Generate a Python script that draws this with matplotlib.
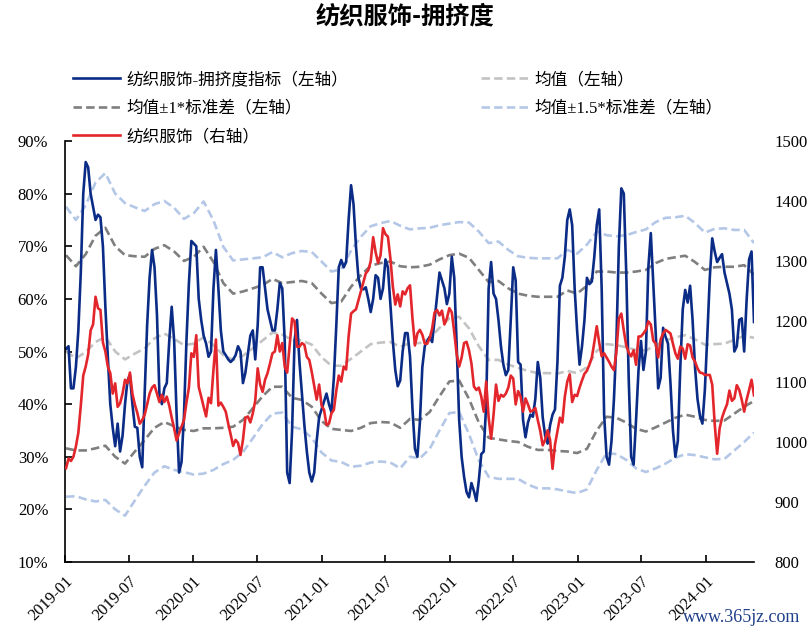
import numpy as np
import pandas as pd
import matplotlib
matplotlib.use('Agg')
import matplotlib.pyplot as plt
from matplotlib.ticker import FuncFormatter

plt.rcParams['font.family'] = ['Liberation Serif', 'Noto Sans CJK SC']
plt.rcParams['axes.unicode_minus'] = False

# ---- data (weekly) ----
weeks = pd.date_range('2019-01-04', periods=281, freq='7D')
band_dates = pd.date_range('2019-01-04', periods=71, freq='28D')

# 纺织服饰-拥挤度指标 (%)
crowd = [
    50.5, 51, 43, 43, 47, 54, 65, 80, 86, 85, 80, 77.5, 75, 76, 75.5, 70, 58.5, 49, 40, 35.5,
    32, 36.3, 31, 34, 40, 44.5, 45.5, 40, 35.7, 35.5, 30, 28, 42, 55, 64, 69.3, 66, 57, 42, 40,
    43, 44, 52, 58.5, 52, 38, 27, 29, 38, 52, 63, 71, 70.5, 70, 60,
    56, 53, 51.5, 49, 50, 62, 69.3, 62, 54, 50, 49.3, 48.5, 48, 48.5, 49.3, 51, 50, 44, 46, 49.5,
    53, 54, 48.5, 55, 66, 66, 62, 58, 56, 54, 54, 58, 63, 62, 52, 27, 25, 35, 52, 56,
    48, 42, 36, 31, 27, 25.3, 27, 33, 37.5, 39, 40.5, 42, 40, 38.5, 45,
    55, 66, 67.4, 66, 67, 75, 81.6, 78, 70, 64, 62, 61.8, 62.2, 60, 57.5, 60, 64.5, 64, 60, 62,
    67.5, 66, 59, 52, 46.5, 43.4, 44.5, 50, 53.5, 53.5, 49, 39, 31.5, 30, 36.5, 47, 51, 52, 52.8, 51.8,
    56, 60.4, 65, 63.5, 62, 59, 61, 68, 64, 51, 37, 30, 26.2, 23.3, 22.3,
    25, 23.5, 21.6, 25.5, 30.5, 31, 40, 62, 67, 61, 60, 56, 51, 47.5, 45.5, 46.5, 56, 66, 63.5, 48,
    47.5, 37, 33.7, 36.5, 38, 37.6, 41, 48, 45, 37.5, 34, 32.5, 36, 38, 39, 48, 62.5, 64, 68, 75,
    77, 74, 62, 54, 47.5, 51, 56, 64, 62.8, 63.3, 68, 74, 77, 62, 38,
    30, 28.5, 33, 41, 52, 70, 81, 80, 65, 45, 30, 28.5, 37, 46.5, 52, 46.5, 50, 66, 72.5, 63,
    53.5, 43, 45, 54.5, 52.8, 51.5, 44, 35, 30, 33, 47, 58, 61.7, 59.3, 62.5, 56, 47, 41, 37.8, 36.3,
    42.7, 53, 64, 71.5, 69, 67, 67.8, 68.5, 65, 63, 61, 58, 50, 51, 56, 56.3, 50, 59.8, 67.5, 69,
    55.6,
]

# 纺织服饰 指数 (右轴)
price = [
    956, 972, 968, 975, 992, 1015, 1060, 1110, 1125, 1145, 1185, 1195, 1241, 1222, 1219, 1165, 1150, 1125, 1114, 1080,
    1097, 1058, 1064, 1080, 1103, 1097, 1115, 1080, 1062, 1048, 1030, 1036, 1045, 1062, 1080, 1090, 1094, 1080, 1066, 1078,
    1066, 1075, 1060, 1040, 1022, 1002, 1014, 1025, 1036, 1065, 1090, 1147, 1141, 1177, 1091,
    1075, 1058, 1042, 1073, 1064, 1120, 1170, 1060, 1065, 1058, 1050, 1030, 1012, 993, 1003, 998, 978, 1003, 1040, 1042,
    1032, 1047, 1068, 1122, 1095, 1083, 1103, 1114, 1130, 1147, 1150, 1177, 1150, 1164, 1125, 1115, 1160, 1205, 1200, 1158,
    1158, 1164, 1161, 1141, 1136, 1116, 1093, 1070, 1095, 1060, 1053, 1028, 1030, 1047, 1053,
    1085, 1110, 1100, 1125, 1120, 1175, 1213, 1217, 1220, 1235, 1250, 1265, 1280, 1285, 1300, 1340, 1315, 1297, 1310, 1355,
    1345, 1341, 1305, 1258, 1228, 1245, 1225, 1250, 1245, 1255, 1260, 1205, 1160, 1180, 1186, 1178, 1163, 1163, 1172, 1188,
    1215, 1219, 1210, 1218, 1195, 1205, 1222, 1215, 1182, 1145, 1125, 1140, 1164, 1166, 1152,
    1130, 1092, 1086, 1090, 1075, 1050, 1100, 1040, 1005, 1045, 1095, 1068, 1078, 1075, 1080, 1090, 1110, 1105, 1062, 1084,
    1075, 1050, 1072, 1062, 1050, 1052, 1056, 1036, 1018, 994, 1003, 1019, 1003, 955, 995, 1018, 1040, 1032, 1075, 1100,
    1112, 1066, 1078, 1076, 1090, 1102, 1113, 1118, 1128, 1140, 1165, 1192, 1165, 1142, 1147,
    1140, 1133, 1125, 1119, 1150, 1205, 1213, 1185, 1160, 1148, 1142, 1152, 1128, 1175, 1175, 1180, 1186, 1200, 1195, 1168,
    1163, 1140, 1170, 1180, 1186, 1183, 1180, 1163, 1147, 1138, 1158, 1155, 1138, 1162, 1160, 1140, 1133, 1122, 1115, 1114,
    1111, 1111, 1111, 1095, 1030, 980, 1022, 1040, 1052, 1062, 1085, 1068, 1072, 1094, 1086, 1070, 1050, 1070, 1086, 1103,
    1077,
]

# 均值 / ±1σ / ±1.5σ (%, every 4 weeks)
mean_v = [50.0, 48.7, 49.9, 51.8, 52.8, 50.0, 48.5, 49.6, 50.6, 52.5, 53.4, 52.4, 51.2, 51.5, 52.7, 51.2, 49.3, 48.4,
          49.2, 50.6, 52.1, 53.6, 53.2, 52.2, 52.1, 51.3, 48.9, 47.3, 47.3, 48.6, 50.0, 51.4, 51.7, 51.8, 50.9, 51.6,
          51.6, 52.5, 54.5, 56.3, 56.6, 54.4, 51.0, 48.4, 48.4, 47.5, 46.9, 46.3, 45.9, 45.9, 45.8, 46.3, 45.9, 47.0,
          50.1, 51.4, 51.2, 50.8, 50.3, 50.2, 51.2, 52.1, 52.7, 53.1, 52.3, 51.3, 51.4, 51.5, 52.2, 53.0, 52.6]
up1 = [68.3, 66.2, 68.5, 72.0, 73.5, 70.0, 68.3, 68.1, 68.0, 69.5, 70.2, 69.0, 67.2, 68.0, 69.9, 67.0, 63.0, 61.0,
       61.4, 62.0, 62.6, 63.8, 63.0, 63.2, 63.4, 63.0, 61.0, 59.2, 59.5, 62.3, 64.5, 66.3, 66.8, 67.1, 66.2, 66.0,
       66.1, 66.5, 67.5, 68.3, 68.6, 67.8, 65.5, 63.2, 63.4, 62.0, 61.0, 60.6, 60.4, 60.4, 60.4, 61.6, 61.0, 62.5,
       65.2, 65.2, 65.0, 65.0, 65.2, 65.5, 66.8, 67.6, 67.9, 68.2, 67.0, 65.5, 66.0, 66.1, 66.1, 66.4, 64.6]
lo1 = [31.6, 31.2, 31.2, 31.6, 32.1, 30.0, 28.7, 31.0, 33.2, 35.5, 36.6, 35.8, 35.1, 34.9, 35.4, 35.4, 35.5, 35.7,
       37.0, 39.2, 41.5, 43.3, 43.3, 41.2, 40.8, 39.5, 36.8, 35.3, 35.1, 34.9, 35.5, 36.4, 36.6, 36.5, 35.5, 37.2,
       37.0, 38.5, 41.5, 44.3, 44.5, 41.0, 36.5, 33.6, 33.3, 33.0, 32.8, 31.9, 31.3, 31.3, 31.1, 31.0, 30.7, 31.5,
       35.0, 37.6, 37.4, 36.5, 35.3, 34.8, 35.6, 36.5, 37.4, 38.0, 37.6, 37.0, 36.8, 36.9, 38.2, 39.5, 40.6]
up15 = [77.5, 75.0, 77.8, 82.1, 83.9, 80.0, 78.2, 77.4, 76.7, 78.0, 78.6, 77.3, 75.2, 76.3, 78.5, 74.9, 69.9, 67.3,
        67.5, 67.7, 67.9, 68.9, 67.9, 68.7, 69.1, 68.9, 67.1, 65.2, 65.6, 69.2, 71.8, 73.8, 74.4, 74.8, 73.9, 73.2,
        73.4, 73.5, 74.0, 74.3, 74.6, 74.5, 72.8, 70.6, 70.9, 69.3, 68.1, 67.8, 67.7, 67.7, 67.7, 69.3, 68.6, 70.3,
        72.8, 72.1, 71.9, 72.1, 72.7, 73.2, 74.6, 75.4, 75.5, 75.8, 74.4, 72.6, 73.3, 73.4, 73.1, 73.1, 70.6]
lo15 = [22.4, 22.5, 21.9, 21.5, 21.8, 20.0, 18.8, 21.7, 24.5, 27.0, 28.2, 27.5, 27.1, 26.6, 26.8, 27.5, 28.6, 29.4,
        30.9, 33.5, 36.2, 38.2, 38.4, 35.7, 35.2, 33.6, 30.8, 29.3, 29.0, 28.1, 28.3, 28.9, 29.1, 28.9, 27.8, 30.0,
        29.7, 31.5, 35.0, 38.3, 38.5, 34.3, 29.3, 26.2, 25.8, 25.8, 25.8, 24.7, 24.0, 24.0, 23.8, 23.4, 23.1, 23.8,
        27.5, 30.7, 30.5, 29.4, 27.8, 27.1, 27.8, 28.7, 29.8, 30.5, 30.3, 29.9, 29.5, 29.6, 31.2, 32.8, 34.6]

xtick_dates = pd.date_range('2019-01-01', '2024-01-01', freq='6MS')

# ---- styles ----
C_BLUE = '#0b2c86'
C_RED = '#e3262b'
C_MEAN = '#c3c3c3'
C_STD1 = '#7f7f7f'
C_STD15 = '#b4c7e7'
DASH = (0, (3.2, 1.6))
LW = 1.9

fig = plt.figure(figsize=(8.1, 6.33), dpi=100)
ax = fig.add_axes([65 / 810, 1 - 562 / 633, (754 - 65) / 810, (562 - 141) / 633])
ax2 = ax.twinx()

h_up15, = ax.plot(band_dates, up15, color=C_STD15, lw=LW, ls=DASH)
ax.plot(band_dates, lo15, color=C_STD15, lw=LW, ls=DASH)
h_up1, = ax.plot(band_dates, up1, color=C_STD1, lw=LW, ls=DASH)
ax.plot(band_dates, lo1, color=C_STD1, lw=LW, ls=DASH)
h_mean, = ax.plot(band_dates, mean_v, color=C_MEAN, lw=LW, ls=DASH)
h_crowd, = ax.plot(weeks, crowd, color=C_BLUE, lw=LW)
h_price, = ax2.plot(weeks, price, color=C_RED, lw=LW)

ax.set_ylim(10, 90)
ax.set_yticks(np.arange(10, 91, 10))
ax.yaxis.set_major_formatter(FuncFormatter(lambda v, p: f'{v:.0f}%'))
ax2.set_ylim(800, 1500)
ax2.set_yticks(np.arange(800, 1501, 100))

ax.set_xlim(pd.Timestamp('2019-01-01'), weeks[-1])
ax.set_xticks(xtick_dates)
ax.set_xticklabels([d.strftime('%Y-%m') for d in xtick_dates], rotation=45,
                   ha='right', va='top', rotation_mode='anchor')

for a in (ax, ax2):
    a.spines['top'].set_visible(False)
    a.spines['right'].set_visible(False)
ax2.spines['left'].set_visible(False)
ax2.spines['bottom'].set_visible(False)
ax.spines['left'].set_linewidth(1.2)
ax.spines['bottom'].set_linewidth(1.2)

ax.tick_params(axis='y', direction='in', length=5, width=1.2, labelsize=12, pad=12)
ax.tick_params(axis='x', direction='in', length=5, width=1.2, labelsize=12, pad=8)
ax2.tick_params(axis='y', length=0, labelsize=12, pad=15)

fig.text(0.5, 1 - 16 / 633, '纺织服饰-拥挤度', ha='center', va='center',
         fontsize=17.5, fontweight='bold', family=['Noto Sans CJK SC'])

handles = [h_crowd, h_up1, h_price, h_mean, h_up15]
labels = ['纺织服饰-拥挤度指标（左轴）', '均值±1*标准差（左轴）', '纺织服饰（右轴）',
          '均值（左轴）', '均值±1.5*标准差（左轴）']
fig.legend(handles, labels, loc='upper left', bbox_to_anchor=(73 / 810, 1 - 72 / 633),
           ncol=2, frameon=False, fontsize=12, handlelength=2.8, handletextpad=0.4,
           columnspacing=8.0, labelspacing=0.75, borderaxespad=0, borderpad=0)

fig.text(800 / 810, 1 - 617 / 633, 'www.365jz.com', ha='right', va='center',
         fontsize=13, color='#1f3f8a', family=['Liberation Serif'])

fig.savefig('out.png', dpi=100)
